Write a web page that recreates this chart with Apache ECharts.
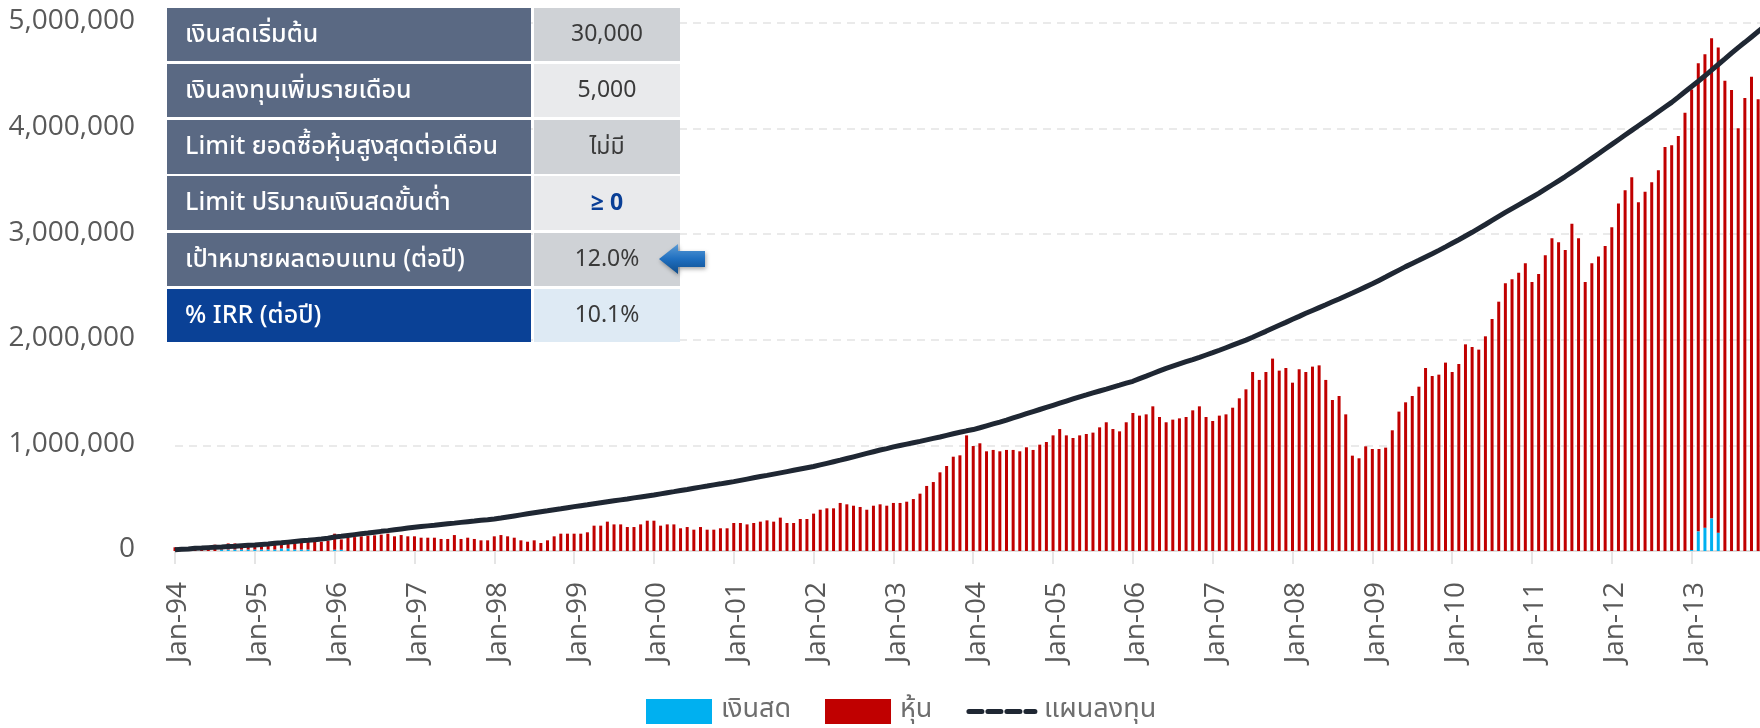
<!DOCTYPE html>
<html><head><meta charset="utf-8">
<style>html,body{margin:0;padding:0;background:#fff;overflow:hidden}#c{width:1760px;height:728px}</style>
<script src="https://cdn.jsdelivr.net/npm/echarts@6/dist/echarts.min.js"></script>
</head><body><div id="c"></div>
<script>
// values in thousands, month by month from Jan-94
const years = ['94','95','96','97','98','99','00','01','02','03','04','05','06','07','08','09','10','11','12','13'];
const months = ['Jan','Feb','Mar','Apr','May','Jun','Jul','Aug','Sep','Oct','Nov','Dec'];
const stockK = [
35,35,35,30,47,45,60,43,58,58,43,36,
26,27,33,43,39,42,58,65,74,88,88,98,
152,98,126,132,139,145,148,155,164,139,151,139,
139,126,126,126,114,114,151,114,126,114,101,101,
139,151,139,126,101,88,101,76,101,139,164,164,
164,164,177,240,240,278,252,252,227,227,252,287,
287,240,252,252,215,227,202,227,202,202,215,215,
265,265,252,265,278,290,278,316,265,265,303,303,
354,391,404,404,455,442,429,417,391,429,442,429,
455,455,467,492,543,616,653,745,805,893,906,1095,
994,1020,944,957,944,957,957,944,982,957,1007,1032,
1095,1155,1095,1070,1095,1108,1121,1171,1219,1155,1133,1219,
1307,1282,1294,1370,1269,1219,1244,1256,1269,1332,1370,1269,
1231,1282,1294,1357,1446,1531,1695,1620,1695,1822,1708,1733,
1594,1721,1695,1746,1758,1620,1430,1468,1294,903,878,991,
966,966,979,1143,1320,1408,1468,1556,1733,1657,1670,1784,
1695,1771,1957,1932,1907,2033,2197,2361,2535,2573,2636,2724,
2548,2623,2800,2961,2923,2851,3100,2961,2548,2724,2788,2889,
3065,3290,3416,3539,3302,3403,3492,3605,3826,3842,3930,4151,
4360,4432,4483,4546,4593,4454,4366,4003,4290,4492,4278,null];
const cashK = [
0,0,0,0,0,0,0,14,14,14,14,14,
14,14,14,14,24,24,14,14,14,0,0,0,
12,12,0,0,0,0,0,0,0,0,0,0,
0,0,0,0,0,0,0,0,0,0,0,0,
0,0,0,0,0,0,0,0,0,0,0,0,
0,0,0,0,0,0,0,0,0,0,0,0,
0,0,0,0,0,0,0,0,0,0,0,0,
0,0,0,0,0,0,0,0,0,0,0,0,
0,0,0,0,0,0,0,0,0,0,0,0,
0,0,0,0,0,0,0,0,0,0,0,0,
0,0,0,0,0,0,0,0,0,0,0,0,
0,0,0,0,0,0,0,0,0,0,0,0,
0,0,0,0,0,0,0,0,0,0,0,0,
0,0,0,0,0,0,0,0,0,0,0,0,
0,0,0,0,0,0,0,0,0,0,0,0,
0,0,0,0,0,0,0,0,0,0,0,0,
0,0,0,0,0,0,0,0,0,0,0,0,
0,0,0,0,0,0,0,0,0,0,0,0,
0,0,0,0,0,0,0,0,0,0,0,0,
10,186,221,309,174,0,0,0,0,0,0,null];
const planK = [
12,16,20,25,28,32,36,39,43,46,50,54,
57,62,67,73,78,84,90,96,101,107,113,120,
132,139,147,155,163,170,178,186,193,201,209,217,
224,231,238,244,251,258,264,271,278,284,291,296,
303,312,322,332,342,352,362,372,381,391,400,410,
420,429,438,448,457,466,475,484,493,503,512,521,
530,541,552,562,573,583,594,605,615,626,636,647,
657,669,681,693,705,716,728,740,752,764,776,788,
800,815,830,845,860,876,892,908,924,940,956,970,
986,999,1012,1025,1038,1052,1066,1080,1095,1110,1124,1138,
1150,1167,1185,1203,1221,1240,1260,1280,1300,1320,1340,1360,
1380,1400,1420,1440,1460,1478,1497,1515,1533,1552,1570,1589,
1607,1632,1656,1681,1706,1730,1751,1772,1793,1813,1834,1856,
1878,1901,1925,1949,1973,1997,2024,2052,2080,2109,2137,2165,
2194,2222,2251,2278,2305,2332,2360,2387,2415,2443,2472,2501,
2530,2562,2594,2627,2660,2693,2723,2753,2784,2815,2847,2880,
2914,2948,2983,3018,3055,3092,3130,3168,3206,3242,3278,3314,
3350,3386,3426,3466,3506,3546,3588,3630,3674,3718,3762,3807,
3851,3895,3939,3983,4027,4071,4115,4160,4204,4248,4298,4349,
4399,4449,4500,4553,4607,4660,4714,4767,4817,4868,4919,4970];
const seriesNames = ['เงินสด','หุ้น','แผนลงทุน'];
const rowLabels = ['เงินสดเริ่มต้น','เงินลงทุนเพิ่มรายเดือน','Limit ยอดซื้อหุ้นสูงสุดต่อเดือน','Limit ปริมาณเงินสดขั้นต่ำ','เป้าหมายผลตอบแทน (ต่อปี)','% IRR (ต่อปี)'];
const rowValues = ['30,000','5,000','ไม่มี','≥ 0','12.0%','10.1%'];
const rowTops = [8,64,120,176,233,289];
const rowBottoms = [61,117,174,230,286,342];

const categories = [];
years.forEach(y => months.forEach(m => categories.push(m + '-' + y)));
const K = v => v === null ? null : v * 1000;
const FONT = '"Open Sans", sans-serif';
const THAI = '"Noto Sans Thai","Noto Sans Thai UI","Noto Sans","Open Sans", sans-serif';
const TXT = '#595959';

const graphic = [];
rowLabels.forEach((t, i) => {
  const last = i === rowLabels.length - 1;
  const top = rowTops[i], h = rowBottoms[i] - rowTops[i];
  graphic.push({type:'rect', z:10, shape:{x:167,y:top,width:364,height:h}, style:{fill:last?'#0A4196':'#5A6983'}});
  graphic.push({type:'rect', z:10, shape:{x:534,y:top,width:146,height:h}, style:{fill:last?'#DEEAF4':(i%2===0?'#CFD2D6':'#E9EAEC')}});
  graphic.push({type:'text', z:11, x:185, y:top+h/2+2, style:{text:t, fill:'#fff', font:'500 25px '+THAI, textVerticalAlign:'middle', textAlign:'left'}});
  graphic.push({type:'text', z:11, x:607, y:top+h/2+2, style:{text:rowValues[i], fill:i===3?'#0A3F96':'#3A3A3A', font:(i===3?'700 ':'400 ')+'23px '+THAI, textVerticalAlign:'middle', textAlign:'center'}});
});
graphic.push({type:'polygon', z:12, shape:{points:[[659,259],[678,244],[678,251],[705,251],[705,267],[678,267],[678,274]]},
  style:{fill:{type:'linear',x:0,y:0,x2:0,y2:1,colorStops:[{offset:0,color:'#5B9BD5'},{offset:0.5,color:'#1F6FC0'},{offset:1,color:'#0F4C8A'}]}, shadowBlur:4, shadowColor:'rgba(0,0,0,0.35)', shadowOffsetX:1, shadowOffsetY:2}});

const chart = echarts.init(document.getElementById('c'), null, {renderer:'canvas'});
chart.setOption({
  animation:false,
  backgroundColor:'#fff',
  grid:{left:175, right:-4.8, top:23, bottom:177, outerBoundsMode:'none'},
  legend:{
    left:646, top:698, padding:0, itemWidth:66, itemHeight:25, itemGap:34,
    textStyle:{color:'#6E6E6E', fontSize:27, fontFamily:THAI, padding:[0,0,0,4]},
    data:[
      {name:seriesNames[0], icon:'rect'},
      {name:seriesNames[1], icon:'rect'},
      {name:seriesNames[2], itemStyle:{opacity:0}, lineStyle:{color:'#1F2733', width:5, type:[13,6], cap:'round', opacity:1}}
    ]
  },
  xAxis:{
    type:'category', data:categories, boundaryGap:false,
    axisLine:{lineStyle:{color:'#D9D9D9', width:1.5}},
    axisTick:{show:true, interval:11, length:13, lineStyle:{color:'#DDDDDD', width:1.5}},
    axisLabel:{interval:11, rotate:90, margin:31, color:TXT, fontSize:28, fontFamily:FONT, verticalAlign:'top', lineHeight:7}
  },
  yAxis:{
    type:'value', min:0, max:5000000, interval:1000000,
    axisLine:{show:false}, axisTick:{show:false},
    splitLine:{lineStyle:{color:'#E4E4E4', width:1.5, type:[8,6]}},
    axisLabel:{margin:40, color:TXT, fontSize:28, fontFamily:FONT, verticalAlign:'bottom', lineHeight:3,
      formatter:v=>v.toLocaleString('en-US')}
  },
  graphic:graphic,
  series:[
    {name:seriesNames[0], type:'bar', stack:'a', barWidth:3, itemStyle:{color:'#00B0F0'}, data:cashK.map(K)},
    {name:seriesNames[1], type:'bar', stack:'a', barWidth:3, itemStyle:{color:'#C00000'}, data:stockK.map(K)},
    {name:seriesNames[2], type:'line', showSymbol:false, symbol:'none', z:5, lineStyle:{color:'#1F2733', width:5}, itemStyle:{color:'#1F2733'}, data:planK.map(K)}
  ]
});
</script></body></html>
